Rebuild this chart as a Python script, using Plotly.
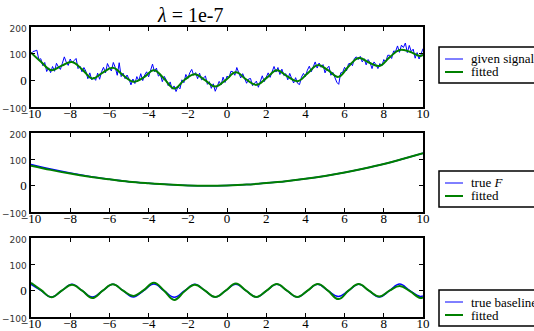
import plotly.graph_objects as go

W, H = 534, 331

# ---------- data ----------
# panel 1: noisy given signal, sampled every 0.1 from -10 to 10
signal_x = [round(-10 + 0.1 * i, 1) for i in range(201)]
signal_y = [
    100, 108, 110, 113, 78, 81, 55, 67, 33, 47,
    29, 52, 34, 64, 50, 41, 64, 88, 68, 56,
    80, 65, 74, 82, 44, 53, 32, 48, 34, 6,
    28, 2, 11, 0, 27, 4, 32, 49, 28, 63,
    47, 35, 67, 48, 19, 66, 14, 27, 6, 20,
    5, -17, 5, -12, 14, -2, 25, -1, 20, 32,
    13, 41, 61, 32, 46, 16, 23, -5, 15, 1,
    -20, -6, -33, -21, -42, -24, -32, 2, -9, 22,
    7, 28, 41, 19, 29, 6, 27, 2, 8, 16,
    -15, -5, -30, -13, -41, -19, -4, -17, 12, -8,
    16, 9, 34, 32, 19, 48, 31, 9, 25, 10,
    -11, 5, 7, -20, -13, -3, -26, -3, 17, -5,
    12, 28, 11, 36, 52, 31, 48, 22, 42, 18,
    25, 2, 26, 7, -10, 10, -11, -16, 12, 26,
    14, 38, 53, 32, 51, 69, 46, 65, 49, 59,
    28, 45, 53, 19, 30, 10, -7, -15, 28, 30,
    49, 36, 62, 64, 55, 82, 88, 78, 90, 69,
    81, 58, 78, 66, 44, 69, 59, 44, 63, 54,
    78, 69, 94, 94, 82, 110, 108, 129, 105, 132,
    123, 140, 104, 131, 108, 117, 83, 104, 80, 98,
    119,
]

# quarter-period sample positions used for the smooth curves
wave_x = [-10.0, -9.48, -8.96, -8.43, -7.91, -7.39, -6.87, -6.34, -5.82, -5.30,
          -4.78, -4.25, -3.73, -3.21, -2.69, -2.16, -1.64, -1.12, -0.60, -0.07,
          0.45, 0.97, 1.50, 2.02, 2.54, 3.06, 3.59, 4.11, 4.63, 5.15,
          5.68, 6.20, 6.72, 7.24, 7.77, 8.29, 8.81, 9.33, 9.86, 10.0]
fitted_signal = [104, 69, 38, 55, 69, 41, 7, 29, 47, 19,
                 -5, 11, 38, 6, -31, 2, 23, 0.5, -23, 1,
                 30, 4, -17, 9, 38, 16, -3, 26, 57, 38,
                 13, 52, 84, 67, 54, 86, 114, 107, 91, 97]

# panel 2: smooth trend F
F_x = [-10, -9, -8, -7, -6, -5, -4, -3, -2, -1, 0, 1, 2, 3, 4, 5, 6, 7, 8, 9, 10]
F_true = [80, 63, 48, 35, 24, 15, 9, 4, 1, 0, 1, 4, 10, 17, 26, 37, 50, 65, 82, 102, 123]
F_fitted = [76, 60, 46, 34, 24, 15, 9, 4, 1, 0, 1, 4, 10, 17, 26, 37, 50, 65, 82, 102, 123]

# panel 3: oscillating baseline
baseline_true = [24, 0, -24, 0, 24, 0, -24, 0, 24, 0,
                 -24, 0, 25, 0, -25, 0, 24, 0, -24, 0,
                 24, 0, -24, 0, 24, 0, -24, 0, 24, 0,
                 -22, 0, 24, 0, -24, 0, 25, 0, -22, -20]
baseline_fitted = [30, 2, -25, 0, 22, 0, -28, 0, 24, 0,
                   -20, 2, 30, 0, -35, -2, 22, 0, -24, 0,
                   27, 0, -24, 0, 25, 0, -24, 0, 25, 0,
                   -32, 0, 25, 0, -22, 0, 18, -2, -28, -25]

x_ticks = [-10, -8, -6, -4, -2, 0, 2, 4, 6, 8, 10]
x_tick_text = ["\u221210", "\u22128", "\u22126", "\u22124", "\u22122", "0", "2", "4", "6", "8", "10"]
y_ticks = [-100, 0, 100, 200]

legend_labels = [["given signal", "fitted"], ["true <i>F</i>", "fitted"], ["true baseline", "fitted"]]

BLUE = "#0000ff"
GREEN = "#008000"
SERIF = "Liberation Serif"
SANS = "DejaVu Sans"


def small(t):
    return f"<span style='font-family:{SANS};font-size:9px;fill:#333'>{t}</span>"


y_tick_text = [small("\u2212100"), "0", small("100"), small("200")]

# ---------- figure ----------
fig = go.Figure()

px_left, px_right = 31, 423
panels = [(27, 107), (133, 212), (238, 317)]
legend_tops = [47, 171, 290]


def yd(top, bot):
    return [1 - bot / H, 1 - top / H]


def py(v):
    return 1 - v / H


def px(v):
    return v / W


# panel 1
fig.add_trace(go.Scatter(x=signal_x, y=signal_y, mode="lines", name="given signal",
                         line=dict(color=BLUE, width=1), xaxis="x", yaxis="y"))
fig.add_trace(go.Scatter(x=wave_x, y=fitted_signal, mode="lines", name="fitted",
                         line=dict(color=GREEN, width=2, shape="spline", smoothing=1.2),
                         xaxis="x", yaxis="y"))
# panel 2
fig.add_trace(go.Scatter(x=F_x, y=F_true, mode="lines", name="true F",
                         line=dict(color=BLUE, width=1.5, shape="spline"),
                         xaxis="x2", yaxis="y2"))
fig.add_trace(go.Scatter(x=F_x, y=F_fitted, mode="lines", name="fitted",
                         line=dict(color=GREEN, width=2, shape="spline"),
                         xaxis="x2", yaxis="y2"))
# panel 3
fig.add_trace(go.Scatter(x=wave_x, y=baseline_true, mode="lines", name="true baseline",
                         line=dict(color=BLUE, width=1.5, shape="spline", smoothing=1.2),
                         xaxis="x3", yaxis="y3"))
fig.add_trace(go.Scatter(x=wave_x, y=baseline_fitted, mode="lines", name="fitted",
                         line=dict(color=GREEN, width=2, shape="spline", smoothing=1.2),
                         xaxis="x3", yaxis="y3"))

xdom = [px_left / W, px_right / W]
axis_common = dict(showline=True, mirror="allticks", linecolor="black", linewidth=1.5,
                   ticks="inside", ticklen=4, tickwidth=1, tickcolor="black",
                   showgrid=False, zeroline=False)

layout = dict(width=W, height=H, margin=dict(l=0, r=0, t=0, b=0, autoexpand=False),
              paper_bgcolor="white", plot_bgcolor="white", showlegend=False,
              font=dict(family=SERIF, size=13, color="black"))

for i, (top, bot) in enumerate(panels):
    sfx = "" if i == 0 else str(i + 1)
    layout["xaxis" + sfx] = dict(domain=xdom, range=[-10, 10], tickvals=x_ticks,
                                 ticktext=x_tick_text, anchor="y" + sfx,
                                 ticklabelstandoff=-6,
                                 tickfont=dict(family=SERIF, size=13, color="black"),
                                 **axis_common)
    layout["yaxis" + sfx] = dict(domain=yd(top, bot), range=[-100, 200], tickvals=y_ticks,
                                 ticktext=y_tick_text, anchor="x" + sfx,
                                 tickfont=dict(family=SERIF, size=13, color="black"),
                                 **axis_common)

# legend boxes (one per panel)
shapes = []
annotations = []
for i, top in enumerate(legend_tops):
    shapes.append(dict(type="rect", xref="paper", yref="paper",
                       x0=px(439), x1=px(560), y0=py(top + 36), y1=py(top),
                       line=dict(color="black", width=1.5), fillcolor="white", layer="above"))
    for j, (col, wid) in enumerate([(BLUE, 1), (GREEN, 2)]):
        yy = top + 12 + 13 * j
        shapes.append(dict(type="line", xref="paper", yref="paper",
                           x0=px(445), x1=px(463), y0=py(yy), y1=py(yy),
                           line=dict(color=col, width=wid), layer="above"))
        annotations.append(dict(text=legend_labels[i][j], x=px(469), y=py(yy), xref="paper",
                                yref="paper", showarrow=False, xanchor="left", yanchor="middle",
                                font=dict(family=SERIF, size=13, color="black")))

annotations.append(dict(text="<i>\u03bb</i> = 1e-7", x=px(190), y=py(15), xref="paper", yref="paper",
                        showarrow=False, font=dict(family=SERIF, size=20, color="black"),
                        xanchor="center", yanchor="middle"))

layout["shapes"] = shapes
layout["annotations"] = annotations
fig.update_layout(**layout)

fig.write_html("out.html")
